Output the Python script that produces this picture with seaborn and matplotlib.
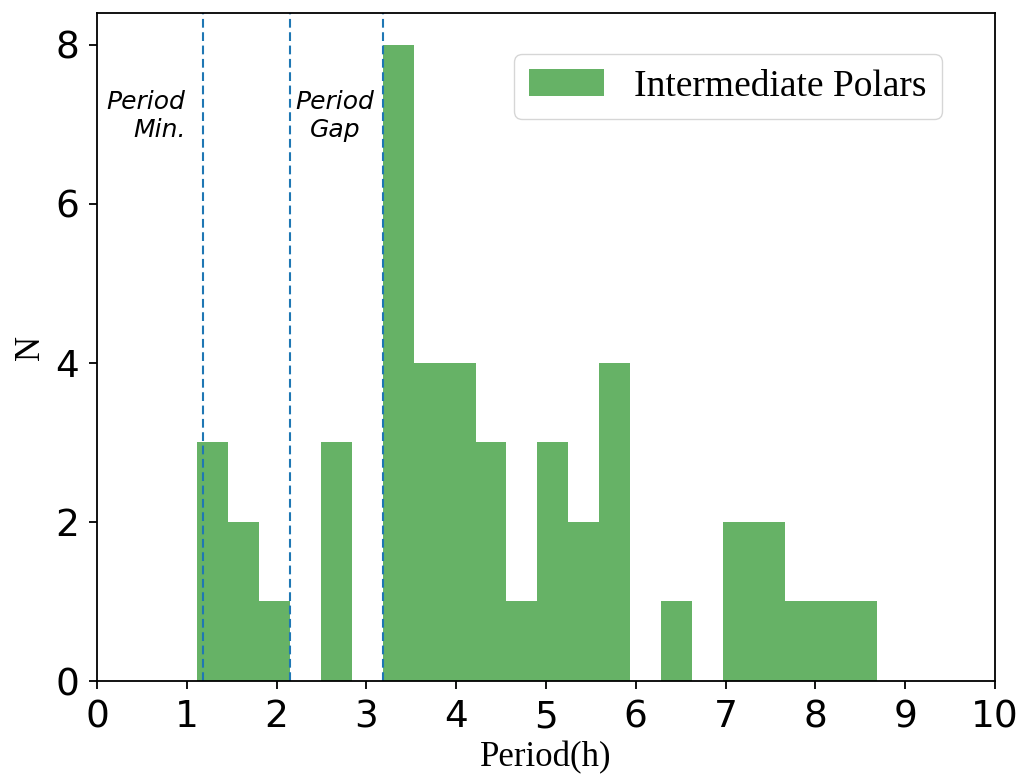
import numpy as np
import pandas as pd
import matplotlib
matplotlib.use("Agg")
import matplotlib.pyplot as plt
import seaborn as sns

# Orbital-period histogram of intermediate polars
bin_lo, bin_hi, n_bins = 1.118, 8.69, 22
counts = [3, 2, 1, 0, 3, 0, 8, 4, 4, 3, 1, 3, 2, 4, 0, 1, 0, 2, 2, 1, 1, 1]
period_min = 1.18
gap_lo, gap_hi = 2.15, 3.18
x_ticks = [0, 1, 2, 3, 4, 5, 6, 7, 8, 9, 10]
y_ticks = [0, 2, 4, 6, 8]

edges = np.linspace(bin_lo, bin_hi, n_bins + 1)
df = pd.DataFrame({
    "period": 0.5 * (edges[:-1] + edges[1:]),
    "n": np.asarray(counts, dtype=float),
})

plt.rcParams.update({
    "axes.linewidth": 1.3,
    "xtick.major.width": 1.3,
    "ytick.major.width": 1.3,
    "xtick.major.size": 6,
    "ytick.major.size": 6,
})

fig = plt.figure(figsize=(10.21, 7.76), dpi=100)
ax = fig.add_axes([0.095, 0.1224, 0.8795, 0.8608])

sns.histplot(data=df, x="period", weights="n", bins=list(edges), color="g",
             alpha=0.6, linewidth=0, edgecolor="none",
             label="Intermediate Polars", ax=ax)

for xv in (period_min, gap_lo, gap_hi):
    ax.axvline(xv, color="tab:blue", linestyle="--", linewidth=1.5,
               dashes=(4.2, 2.2))

ax.text(0.985, 7.43, "Period\nMin.", ha="right", va="top", multialignment="right",
        fontsize=18, style="italic", family="DejaVu Sans", linespacing=1.2)
ax.text(2.65, 7.43, "Period\nGap", ha="center", va="top", multialignment="center",
        fontsize=18, style="italic", family="DejaVu Sans", linespacing=1.2)

ax.set_xlim(0, 10)
ax.set_ylim(0, 8.4)
ax.set_xticks(x_ticks)
ax.set_yticks(y_ticks)
ax.tick_params(labelsize=27, pad=7)

ax.set_xlabel("Period(h)", family="Liberation Serif", fontsize=25, labelpad=4)
ax.set_ylabel("N", family="Liberation Serif", fontsize=25, labelpad=6)

ax.legend(loc="upper right", bbox_to_anchor=(0.941, 0.9386),
          prop={"family": "Liberation Serif", "size": 27},
          borderaxespad=0)

fig.savefig("out.png", dpi=100)
